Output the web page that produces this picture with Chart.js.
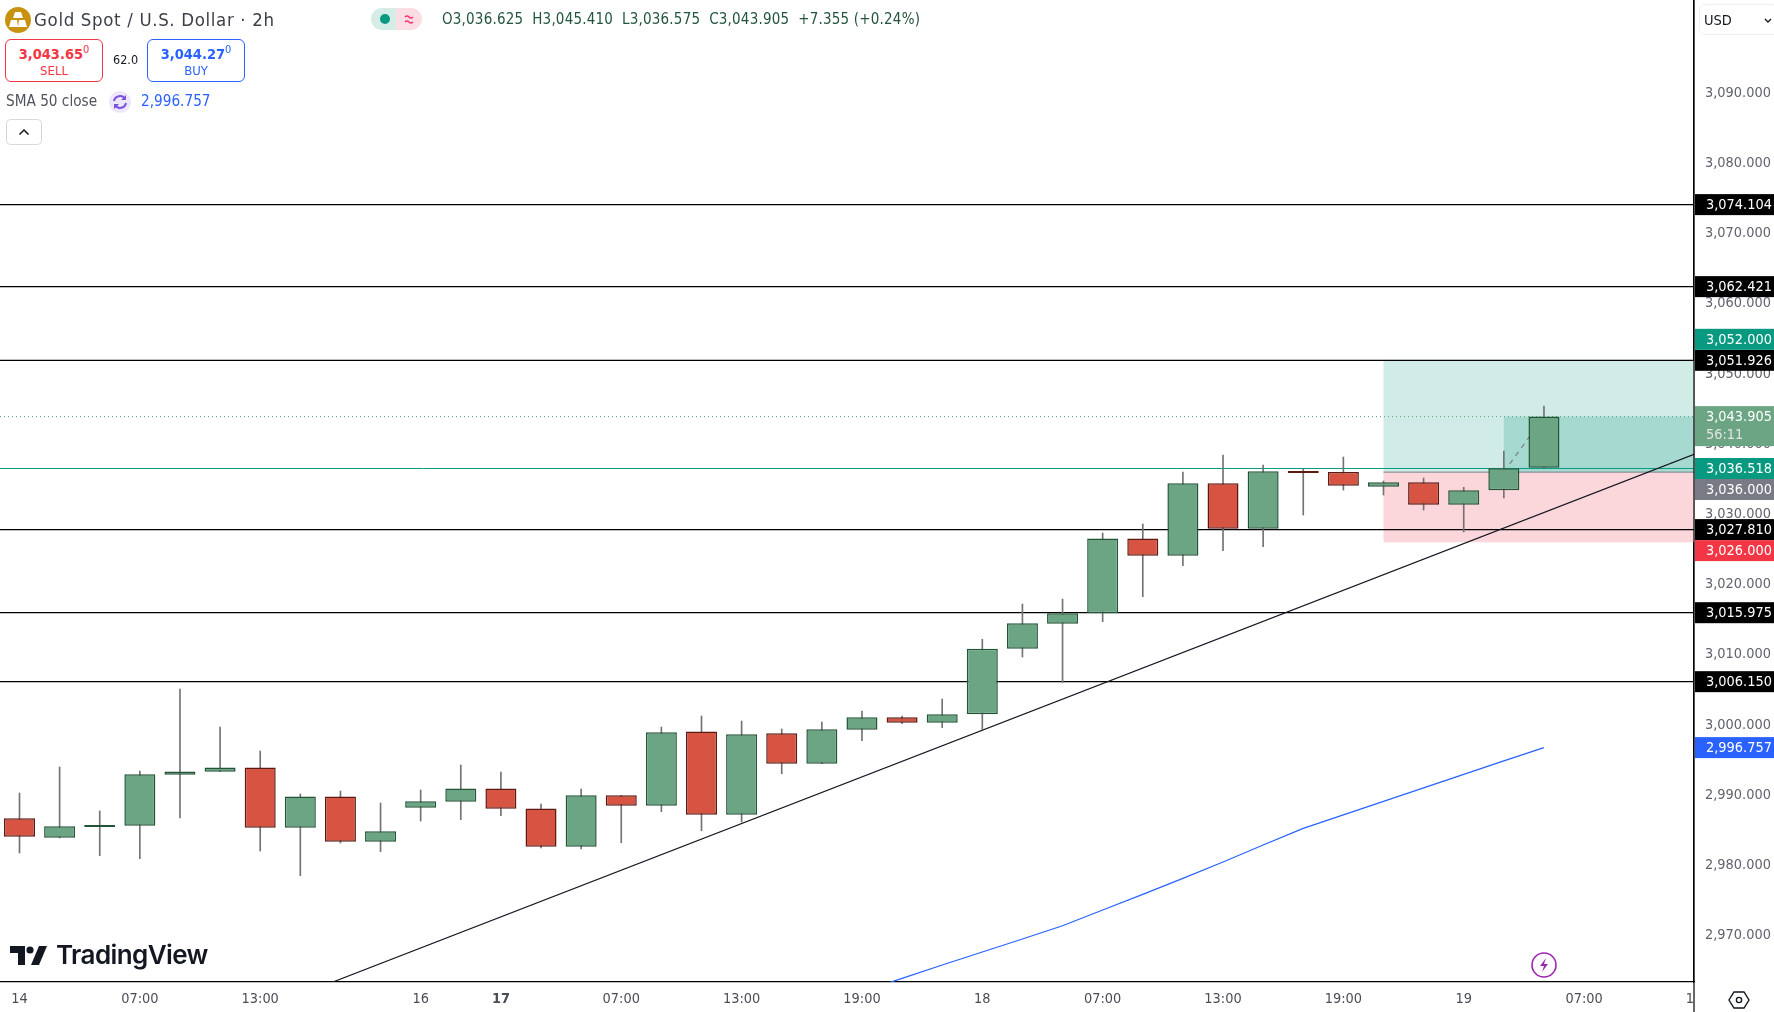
<!DOCTYPE html>
<html>
<head>
<meta charset="utf-8">
<title>Gold Spot / U.S. Dollar</title>
<script src="https://cdn.jsdelivr.net/npm/chart.js@4"></script>
<style>
html, body { margin: 0; padding: 0; background: #fff; width: 1774px; height: 1012px; overflow: hidden; }
body { font-family: "DejaVu Sans Condensed", "DejaVu Sans", sans-serif; position: relative; }
canvas { position: absolute; left: 0; top: 0; }
.abs { position: absolute; white-space: nowrap; line-height: 1; }
.btn { position: absolute; box-sizing: border-box; border-radius: 6px; border: 1px solid; background: #fff; text-align: center; }
.btn b { display: block; font-size: 14.5px; margin-top: 5px; line-height: 18px; }
.btn b sup { font-size: 11px; font-weight: 400; line-height: 0; }
.btn span { display: block; font-size: 13px; line-height: 15px; }
</style>
</head>
<body>
<canvas id="chart" width="1774" height="1012"></canvas>

<svg class="abs" style="left:4px;top:6px" width="28" height="28" viewBox="0 0 28 28">
  <circle cx="14" cy="14" r="13" fill="#c8920f"/>
  <path d="M11 6h6l2 6h-10zM5 21l2-7h6l1 7zM15 14h6l2 7h-9z" fill="#fff"/>
</svg>
<div class="abs" style="left:34px;top:11px;font-size:18.5px;letter-spacing:.65px;color:#3c3f47">Gold Spot / U.S. Dollar · 2h</div>

<svg class="abs" style="left:371px;top:8px" width="51" height="22" viewBox="0 0 51 22">
  <path d="M11 0h14v22h-14a11 11 0 0 1 0-22z" fill="#d5ece7"/>
  <path d="M25 0h15a11 11 0 0 1 0 22h-15z" fill="#fbdde4"/>
  <circle cx="14" cy="11" r="5" fill="#089981"/>
  <path d="M34 9q2-2 4 0t4 0M34 14q2-2 4 0t4 0" stroke="#f23673" stroke-width="1.6" fill="none"/>
</svg>
<div class="abs" style="left:442px;top:12px;font-size:15px;letter-spacing:.2px;color:#22553b">O3,036.625&nbsp; H3,045.410&nbsp; L3,036.575&nbsp; C3,043.905&nbsp; +7.355 (+0.24%)</div>

<div class="btn" style="left:5px;top:39px;width:98px;height:43px;border-color:#f23645;color:#f23645"><b>3,043.65<sup>0</sup></b><span>SELL</span></div>
<div class="abs" style="left:113px;top:54px;font-size:12.5px;color:#131722">62.0</div>
<div class="btn" style="left:147px;top:39px;width:98px;height:43px;border-color:#2962ff;color:#2962ff"><b>3,044.27<sup>0</sup></b><span>BUY</span></div>

<div class="abs" style="left:6px;top:94px;font-size:15.2px;color:#50535e">SMA 50 close</div>
<svg class="abs" style="left:108px;top:90px" width="24" height="24" viewBox="0 0 24 24">
  <circle cx="12" cy="12" r="11" fill="#ede7fb"/>
  <path d="M6 11a6 6 0 0 1 11-2M18 13a6 6 0 0 1-11 2" stroke="#7b4fe0" stroke-width="2" fill="none"/>
  <path d="M18 5v5h-5zM6 19v-5h5z" fill="#7b4fe0"/>
</svg>
<div class="abs" style="left:141px;top:94px;font-size:15.2px;color:#2962ff">2,996.757</div>

<svg class="abs" style="left:6px;top:119px" width="36" height="26" viewBox="0 0 36 26">
  <rect x=".5" y=".5" width="35" height="25" rx="4" fill="#fff" stroke="#d6d8de"/>
  <path d="M13.5 15.5l4.5-4.5 4.5 4.5" stroke="#131722" stroke-width="1.5" fill="none"/>
</svg>

<svg class="abs" style="left:10px;top:946px" width="37" height="20" viewBox="0 0 37 20">
  <path d="M0 0h15v19h-7v-12h-8z" fill="#131722"/>
  <circle cx="20" cy="4" r="3.6" fill="#131722"/>
  <path d="M29 0h8l-8 19h-8z" fill="#131722"/>
</svg>
<div class="abs" style="left:56px;top:942px;font-family:Inter,sans-serif;font-weight:600;font-size:26px;color:#131722;letter-spacing:-.6px">TradingView</div>

<svg class="abs" style="left:1531px;top:952px" width="26" height="26" viewBox="0 0 26 26">
  <circle cx="13" cy="13" r="12" fill="#fff" stroke="#9c27b0" stroke-width="1.6"/>
  <path d="M15 6l-6 8h4l-2 6 6-8h-4z" fill="#9c27b0"/>
</svg>

<div class="abs" style="left:1699px;top:4px;width:80px;height:31px;box-sizing:border-box;border:1px solid #eeeff2;border-radius:6px"></div>
<div class="abs" style="left:1704px;top:13px;font-size:14.5px;color:#131722">USD</div>
<svg class="abs" style="left:1763px;top:15px" width="10" height="10" viewBox="0 0 10 10">
  <path d="M2 4l3 3 3-3" stroke="#131722" stroke-width="1.4" fill="none"/>
</svg>
<svg class="abs" style="left:1728px;top:990px" width="22" height="20" viewBox="0 0 22 20">
  <path d="M6 2h10l5 8-5 8h-10l-5-8z" stroke="#131722" stroke-width="1.4" fill="none"/>
  <circle cx="11" cy="10" r="2.6" stroke="#131722" stroke-width="1.4" fill="none"/>
</svg>

<script>
// candles (2h bars)
const opens  = [2986.68, 2983.93, 2985.45, 2985.63, 2992.9, 2993.33, 2993.94, 2985.35, 2989.81, 2983.36, 2988.2, 2989.05, 2990.95, 2988.1, 2982.64, 2989.96, 2988.48, 2999.07, 2987.2, 2998.79, 2994.47, 2999.31, 3001.07, 3000.31, 3001.5, 3010.85, 3014.41, 3015.88, 3026.56, 3024.09, 3034.4, 3027.94, 3036.17, 3036.0, 3033.92, 3034.54, 3031.36, 3033.4, 3036.625];
const highs  = [2990.29, 2993.99, 2987.73, 2993.42, 3005.1, 2999.69, 2996.27, 2990.15, 2990.57, 2988.86, 2990.72, 2994.28, 2993.28, 2988.72, 2990.86, 2989.96, 2999.69, 3001.26, 3000.55, 2999.41, 3000.4, 3001.97, 3001.26, 3003.68, 3012.19, 3017.2, 3017.92, 3027.32, 3028.61, 3036.01, 3038.44, 3037.01, 3036.44, 3038.15, 3034.73, 3035.16, 3033.83, 3039.0, 3045.41];
const lows   = [2981.74, 2983.9, 2981.36, 2980.93, 2986.73, 2993.33, 2982.03, 2978.51, 2983.17, 2981.93, 2986.3, 2986.49, 2987.06, 2982.46, 2982.31, 2983.21, 2987.63, 2984.92, 2986.16, 2993.04, 2994.47, 2997.74, 3000.17, 2999.6, 2999.36, 3009.66, 3006.05, 3014.69, 3018.25, 3022.67, 3024.81, 3025.38, 3029.89, 3033.45, 3032.74, 3030.6, 3027.47, 3032.31, 3036.575];
const closes = [2984.07, 2985.54, 2985.73, 2992.95, 2993.37, 2993.94, 2985.35, 2989.81, 2983.36, 2984.83, 2989.1, 2990.95, 2988.06, 2982.64, 2989.96, 2988.48, 2998.93, 2987.2, 2998.65, 2994.47, 2999.36, 3001.07, 3000.31, 3001.5, 3010.85, 3014.46, 3015.88, 3026.56, 3024.09, 3034.4, 3027.94, 3036.11, 3035.89, 3034.07, 3034.54, 3031.36, 3033.4, 3036.54, 3043.905];

// SMA 50, bars 21..38
const smaBars   = [21, 22, 23, 24, 25, 26, 27, 28, 29, 30, 31, 32, 33, 34, 35, 36, 37, 38];
const smaValues = [2961.99, 2963.89, 2965.79, 2967.64, 2969.49, 2971.39, 2973.62, 2975.85, 2978.13, 2980.46, 2982.88, 2985.26, 2987.18, 2989.1, 2991.02, 2992.95, 2994.87, 2996.757];

// horizontal levels and the hand drawn trend line
const levelValues = [3074.104, 3062.421, 3051.926, 3027.81, 3015.975, 3006.15];
const trendBars   = [7.81, 41.74];
const trendValues = [2963.37, 3038.53];

const lastPrice  = 3043.905;
const openPrice  = 3036.518;
const entryPrice = 3036;
const targetPrice = 3052;
const stopPrice  = 3026;
const smaLast    = 2996.757;
const positionStartBar = 34;
const liveStartBar = 37;

// axes
const priceTicks = [2970, 2980, 2990, 3000, 3010, 3020, 3030, 3040, 3050, 3060, 3070, 3080, 3090];
const timeTickBars = [0, 3, 6, 10, 12, 15, 18, 21, 24, 27, 30, 33, 36, 39, 42];
const timeTickLabels = ['14', '07:00', '13:00', '16', '17', '07:00', '13:00', '19:00', '18', '07:00', '13:00', '19:00', '19', '07:00', '13:00'];

const xMin = -0.486, xMax = 41.74;
const yMin = 2963.37, yMax = 3103.25;

const UP = '#6ba583', UP_EDGE = '#225437', DOWN = '#d75442', DOWN_EDGE = '#5b1a13';
const FONT = '"DejaVu Sans Condensed", "DejaVu Sans", sans-serif';

const fmt = v => v.toLocaleString('en-US', { minimumFractionDigits: 3, maximumFractionDigits: 3 });
const hline = (v, from, to) => [{ x: from, y: v }, { x: to, y: v }];
const isUp = closes.map((c, i) => c >= opens[i]);

function line(data, color, width, order, extra) {
    return Object.assign({ type: 'line', data, borderColor: color, borderWidth: width, pointRadius: 0, tension: 0, order }, extra);
}

const datasets = [
    line(hline(entryPrice, positionStartBar, xMax), '#787b86', 1, 12),
    line([{ x: liveStartBar, y: entryPrice }, { x: 38, y: lastPrice }], '#787b86', 1.2, 11, { borderDash: [5, 5] }),
    // price lines
    line(hline(lastPrice, xMin, xMax), '#5aa07c', 1, 10, { borderDash: [1, 3] }),
    line(hline(openPrice, xMin, xMax), '#089981', 1, 9)
];
levelValues.forEach(v => datasets.push(line(hline(v, xMin, xMax), '#000000', 1.2, 8)));
datasets.push(line(smaBars.map((b, i) => ({ x: b, y: smaValues[i] })), '#2962ff', 1.2, 7));
datasets.push(line(trendBars.map((b, i) => ({ x: b, y: trendValues[i] })), '#131722', 1.2, 1));
// wicks and bodies
datasets.push({
    type: 'bar', grouped: false, barThickness: 1, borderWidth: 0, backgroundColor: '#737375', order: 4,
    data: highs.map((h, i) => ({ x: i, y: [lows[i], h] }))
});
datasets.push({
    type: 'bar', grouped: false, barThickness: 31, borderWidth: 1.5, borderSkipped: false, inflateAmount: 0, order: 3,
    backgroundColor: isUp.map(u => u ? UP : DOWN),
    borderColor: isUp.map(u => u ? UP_EDGE : DOWN_EDGE),
    data: opens.map((o, i) => ({ x: i, y: [o, closes[i]] }))
});

// long position zones, under everything else
const zonePlugin = {
    id: 'zones',
    beforeDatasetsDraw(chart) {
        const { ctx, scales: { x, y } } = chart;
        const zone = (bar, hi, lo, color) => {
            const left = x.getPixelForValue(bar), top = y.getPixelForValue(hi);
            ctx.fillStyle = color;
            ctx.fillRect(left, top, x.getPixelForValue(xMax) - left, y.getPixelForValue(lo) - top);
        };
        ctx.save();
        zone(positionStartBar, targetPrice, entryPrice, '#d1ebe6');
        zone(positionStartBar, entryPrice, stopPrice, '#fbd6da');
        zone(liveStartBar, lastPrice, entryPrice, '#a6dad1');
        ctx.restore();
    }
};

// price tags in the right hand column, pushed apart when they collide
const tagValues = [3074.104, 3062.421, 3051.926, 3036.518, 3027.81, 3015.975, 3006.15, lastPrice, smaLast, targetPrice, entryPrice, stopPrice];
const tagColors = ['#000000', '#000000', '#000000', '#089981', '#000000', '#000000', '#000000', '#6ba583', '#2962ff', '#089981', '#787b86', '#f23645'];

const overlayPlugin = {
    id: 'overlay',
    afterDraw(chart) {
        const { ctx, scales: { y }, chartArea } = chart;
        const left = chartArea.right, w = chart.width - left, h = 21;
        // hides whatever runs past the price axis in the time strip
        ctx.save();
        ctx.fillStyle = '#fff';
        ctx.fillRect(left, chartArea.bottom, w, chart.height - chartArea.bottom);
        ctx.strokeStyle = '#000';
        ctx.lineWidth = 1.2;
        ctx.beginPath();
        ctx.moveTo(left, 0);
        ctx.lineTo(left, chart.height);
        ctx.stroke();
        ctx.textBaseline = 'middle';
        ctx.font = '14.4px ' + FONT;
        const placed = [];
        tagValues.forEach((v, i) => {
            let cy = y.getPixelForValue(v);
            const tall = v === lastPrice ? 40 : h;
            placed.forEach(p => {
                if (Math.abs(cy - p.cy) < (tall + p.tall) / 2) {
                    cy = v > p.v ? p.cy - (tall + p.tall) / 2 : p.cy + (tall + p.tall) / 2;
                }
            });
            placed.push({ v, cy, tall });
            ctx.fillStyle = tagColors[i];
            const top = v === lastPrice ? cy - 10.5 : cy - h / 2;
            ctx.fillRect(left + 1, top, w - 1, tall);
            ctx.fillStyle = '#fff';
            ctx.fillText(fmt(v), left + 12, cy + 1);
            if (v === lastPrice) {
                ctx.fillStyle = '#e4e4e4';
                ctx.fillText('56:11', left + 12, cy + 19);
            }
        });
        ctx.restore();
    }
};

new Chart(document.getElementById('chart'), {
    data: { datasets },
    plugins: [zonePlugin, overlayPlugin],
    options: {
        responsive: false,
        devicePixelRatio: 1,
        animation: false,
        layout: { padding: 0 },
        plugins: { legend: { display: false }, tooltip: { enabled: false } },
        scales: {
            x: {
                type: 'linear', offset: false, min: xMin, max: xMax,
                grid: { display: false, drawTicks: false },
                border: { color: '#000', width: 1.2 },
                afterBuildTicks: s => { s.ticks = timeTickBars.map(value => ({ value })); },
                afterFit: s => { s.height = 30; s.paddingLeft = 0; s.paddingRight = 0; },
                ticks: {
                    autoSkip: false, maxRotation: 0, padding: 9, color: '#4a4d57',
                    font: c => ({ family: FONT, size: 14.4, weight: timeTickLabels[c.index] === '17' ? '700' : '400' }),
                    callback: (v, i) => timeTickLabels[i]
                }
            },
            y: {
                type: 'linear', position: 'right', min: yMin, max: yMax,
                grid: { display: false, drawTicks: false },
                border: { color: '#000', width: 1.2 },
                afterBuildTicks: s => { s.ticks = priceTicks.map(value => ({ value })); },
                afterFit: s => { s.width = 80; s.paddingTop = 0; s.paddingBottom = 0; },
                ticks: { padding: 11, color: '#60636d', font: { family: FONT, size: 14.4 }, callback: v => fmt(v) }
            }
        }
    }
});
</script>
</body>
</html>
